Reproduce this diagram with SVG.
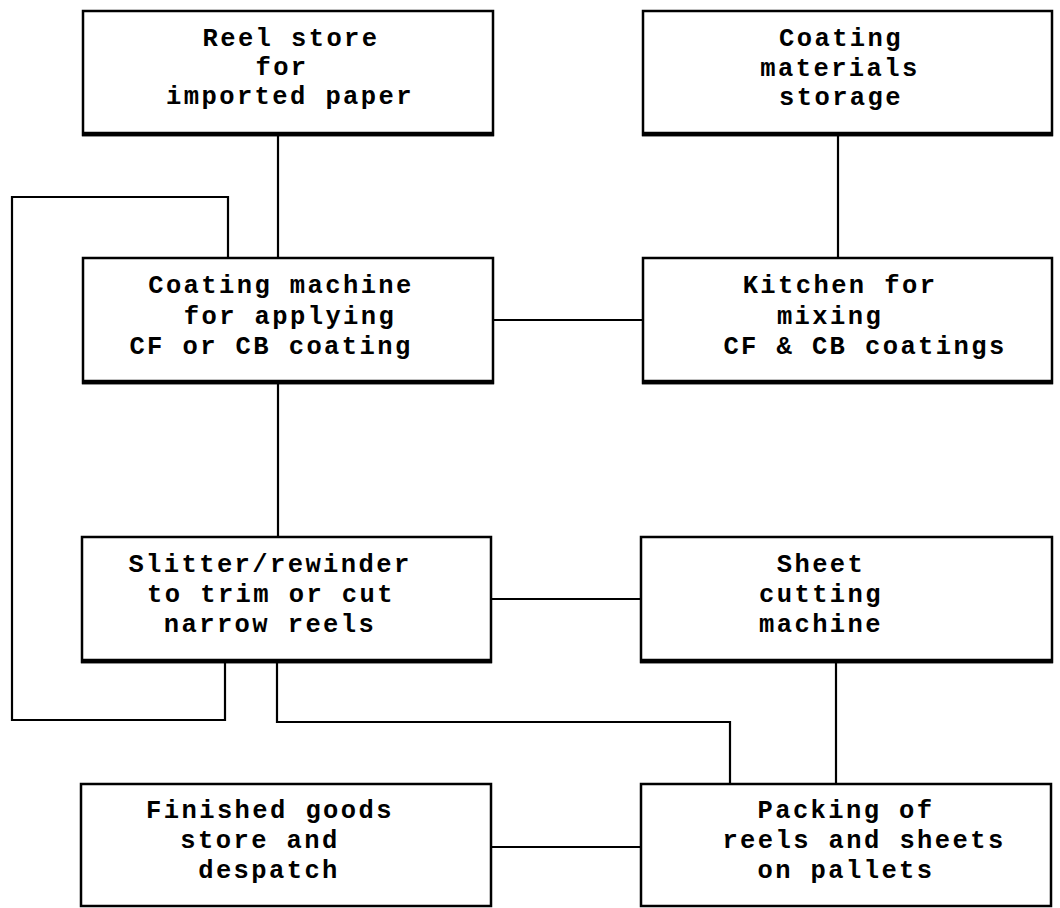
<svg xmlns="http://www.w3.org/2000/svg" width="1060" height="908" viewBox="0 0 1060 908">
<style>
.box{fill:#fff;stroke:#000;stroke-width:2.5}
.base{stroke:#000;stroke-width:4.5;fill:none}
.c{fill:none;stroke:#000;stroke-width:2.2}
text{font-family:"Liberation Mono","DejaVu Sans Mono",monospace;font-weight:bold;font-size:25.5px;letter-spacing:2.4px;fill:#000;text-anchor:middle}
</style>
<rect width="1060" height="908" fill="#fff"/>
<g id="connectors">
<line class="c" x1="278" y1="135" x2="278" y2="258"/>
<line class="c" x1="838" y1="135" x2="838" y2="258"/>
<line class="c" x1="493" y1="320" x2="643" y2="320"/>
<line class="c" x1="278" y1="383" x2="278" y2="537"/>
<line class="c" x1="491" y1="599" x2="641" y2="599"/>
<line class="c" x1="836" y1="662" x2="836" y2="784"/>
<line class="c" x1="491" y1="847" x2="641" y2="847"/>
<polyline class="c" points="225,662 225,720 12,720 12,197 228,197 228,258"/>
<polyline class="c" points="277,662 277,722 730,722 730,784"/>
</g>
<g id="reel-store">
<rect class="box" x="83" y="11" width="410" height="124"/>
<line class="base" x1="82" y1="134" x2="494" y2="134"/>
<text x="291" y="46">Reel store</text>
<text x="282" y="75">for</text>
<text x="290" y="104">imported paper</text>
</g>
<g id="coating-materials">
<rect class="box" x="643" y="11" width="409" height="124"/>
<line class="base" x1="642" y1="134" x2="1053" y2="134"/>
<text x="841" y="46">Coating</text>
<text x="840" y="76">materials</text>
<text x="841" y="105">storage</text>
</g>
<g id="coating-machine">
<rect class="box" x="83" y="258" width="410" height="125"/>
<line class="base" x1="82" y1="382" x2="494" y2="382"/>
<text x="281" y="293">Coating machine</text>
<text x="290" y="324">for applying</text>
<text x="271" y="354">CF or CB coating</text>
</g>
<g id="kitchen">
<rect class="box" x="643" y="258" width="409" height="125"/>
<line class="base" x1="642" y1="382" x2="1053" y2="382"/>
<text x="840" y="293">Kitchen for</text>
<text x="830" y="324">mixing</text>
<text x="865" y="354">CF &amp; CB coatings</text>
</g>
<g id="slitter">
<rect class="box" x="82" y="537" width="409" height="125"/>
<line class="base" x1="81" y1="661" x2="492" y2="661"/>
<text x="270" y="572">Slitter/rewinder</text>
<text x="271" y="602">to trim or cut</text>
<text x="270" y="632">narrow reels</text>
</g>
<g id="sheet-cutting">
<rect class="box" x="641" y="537" width="411" height="125"/>
<line class="base" x1="640" y1="661" x2="1053" y2="661"/>
<text x="821" y="572">Sheet</text>
<text x="821" y="602">cutting</text>
<text x="821" y="632">machine</text>
</g>
<g id="finished-goods">
<rect class="box" x="81" y="784" width="410" height="122"/>
<text x="270" y="818">Finished goods</text>
<text x="260" y="848">store and</text>
<text x="269" y="878">despatch</text>
</g>
<g id="packing">
<rect class="box" x="641" y="784" width="410" height="122"/>
<text x="846" y="818">Packing of</text>
<text x="864" y="848">reels and sheets</text>
<text x="846" y="878">on pallets</text>
</g>
</svg>
